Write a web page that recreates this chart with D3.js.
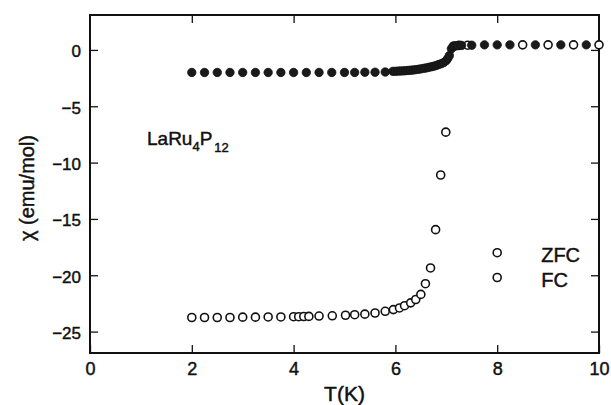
<!DOCTYPE html>
<html>
<head>
<meta charset="utf-8">
<script src="https://cdn.jsdelivr.net/npm/d3@7"></script>
<style>
  body { margin: 0; background: #fff; }
  text { font-family: "Liberation Sans", Arial, sans-serif; fill: #111; stroke: #111; stroke-width: 0.45px; }
</style>
</head>
<body>
<svg id="chart" width="611" height="405"></svg>
<script>
// ZFC (open circles)
var zfcT = [2, 2.25, 2.5, 2.75, 3, 3.25, 3.5, 3.75, 4, 4.1, 4.2, 4.3, 4.5, 4.76,
  5.02, 5.2, 5.4, 5.6, 5.8, 5.96, 6.08, 6.18, 6.3, 6.4, 6.5, 6.59, 6.69, 6.79,
  6.89, 6.99, 7.15, 7.25, 7.42, 8.5, 9, 9.5, 10];
var zfcChi = [-23.75, -23.75, -23.75, -23.75, -23.72, -23.72, -23.7, -23.7,
  -23.68, -23.68, -23.66, -23.65, -23.62, -23.6, -23.55, -23.5, -23.45, -23.35,
  -23.2, -23.05, -22.9, -22.7, -22.45, -22.15, -21.7, -20.75, -19.35, -15.95,
  -11.1, -7.3, 0.35, 0.4, 0.42, 0.45, 0.45, 0.45, 0.45];

// FC (filled circles)
var fcT = [2, 2.25, 2.5, 2.75, 3, 3.25, 3.5, 3.75, 4, 4.25, 4.5, 4.75, 5, 5.2,
  5.4, 5.6, 5.8, 5.95, 6, 6.05, 6.1, 6.15, 6.2, 6.25, 6.3, 6.35, 6.4, 6.45, 6.5,
  6.55, 6.6, 6.65, 6.7, 6.75, 6.8, 6.85, 6.9, 6.95, 7, 7.03, 7.06, 7.1, 7.13,
  7.17, 7.22, 7.3, 7.5, 7.75, 8, 8.25, 8.75, 9.25, 9.75];
var fcChi = [-2, -2, -2, -2, -2, -2, -2, -2, -2, -2, -2, -2, -2, -2, -1.98,
  -1.98, -1.96, -1.9, -1.9, -1.88, -1.87, -1.86, -1.84, -1.82, -1.8, -1.78,
  -1.75, -1.72, -1.68, -1.64, -1.6, -1.55, -1.5, -1.45, -1.38, -1.3, -1.22,
  -1.12, -0.95, -0.75, -0.5, 0.1, 0.3, 0.35, 0.38, 0.4, 0.42, 0.45, 0.45, 0.45,
  0.45, 0.45, 0.45];

var xTicks = [0, 2, 4, 6, 8, 10];
var yTicks = [0, -5, -10, -15, -20, -25];
var legendItems = ["ZFC", "FC"];
var legendT = 8;
var legendChi = [-18.0, -20.2];

var svg = d3.select("#chart"),
  margin = { top: 15, right: 12, bottom: 52, left: 90 },
  width = +svg.attr("width") - margin.left - margin.right,
  height = +svg.attr("height") - margin.top - margin.bottom;

var x = d3.scaleLinear().domain([0, 10]).range([0, width]);
var y = d3.scaleLinear().domain([-26.9, 3.1]).range([height, 0]);

var g = svg
  .append("g")
  .attr("transform", "translate(" + margin.left + "," + margin.top + ")");

// inward ticks on all four sides
g.append("g")
  .attr("class", "x axis")
  .attr("transform", "translate(0," + height + ")")
  .call(d3.axisBottom(x).tickValues(xTicks).tickSizeInner(-8).tickSizeOuter(0).tickPadding(9));

g.append("g")
  .attr("class", "x axis top")
  .call(d3.axisTop(x).tickValues(xTicks.slice(1, -1)).tickSizeInner(-8).tickSizeOuter(0).tickFormat(""));

g.append("g")
  .attr("class", "y axis")
  .call(d3.axisLeft(y).tickValues(yTicks).tickSizeInner(-8).tickSizeOuter(0).tickPadding(9));

g.append("g")
  .attr("class", "y axis right")
  .attr("transform", "translate(" + width + ",0)")
  .call(d3.axisRight(y).tickValues(yTicks).tickSizeInner(-8).tickSizeOuter(0).tickFormat(""));

g.selectAll(".axis .domain").remove();
g.selectAll(".axis line").attr("stroke", "#111").attr("stroke-width", 1.3);
g.selectAll(".x.axis text").style("font-size", "18px").attr("fill", "#111");
g.selectAll(".y.axis text").style("font-size", "17px").attr("fill", "#111").attr("dy", "0.4em");

g.append("rect")
  .attr("width", width)
  .attr("height", height)
  .attr("fill", "none")
  .attr("stroke", "#111")
  .attr("stroke-width", 2);

var fc = fcT.map(function(t, i) { return { t: t, chi: fcChi[i] }; });
var zfc = zfcT.map(function(t, i) { return { t: t, chi: zfcChi[i] }; });

g.selectAll(".zfc")
  .data(zfc)
  .enter()
  .append("circle")
  .attr("class", "zfc")
  .attr("cx", function(d) { return x(d.t); })
  .attr("cy", function(d) { return y(d.chi); })
  .attr("r", 4)
  .attr("fill", "#fff")
  .attr("stroke", "#111")
  .attr("stroke-width", 1.6);

g.selectAll(".fc")
  .data(fc)
  .enter()
  .append("circle")
  .attr("class", "fc")
  .attr("cx", function(d) { return x(d.t); })
  .attr("cy", function(d) { return y(d.chi); })
  .attr("r", 4.2)
  .attr("fill", "#1a1a1a")
  .attr("stroke", "#111")
  .attr("stroke-width", 0.8);

// legend
legendItems.forEach(function(name, i) {
  g.append("circle")
    .attr("cx", x(legendT))
    .attr("cy", y(legendChi[i]))
    .attr("r", 4)
    .attr("fill", "#fff")
    .attr("stroke", "#111")
    .attr("stroke-width", 1.6);
  g.append("text")
    .attr("x", x(legendT) + 44)
    .attr("y", y(legendChi[i]) + 9)
    .style("font-size", "20px")
    .text(name);
});

// compound label
var label = g.append("text")
  .attr("x", 57)
  .attr("y", 130)
  .style("font-size", "19px");
label.append("tspan").text("LaRu");
label.append("tspan").attr("dy", 6).style("font-size", "13px").text("4");
label.append("tspan").attr("dy", -6).text("P");
label.append("tspan").attr("dy", 7).attr("dx", 2).style("font-size", "13px").text("12");

// axis titles
svg.append("text")
  .attr("x", margin.left + x(5))
  .attr("y", 401)
  .attr("text-anchor", "middle")
  .style("font-size", "21px")
  .text("T(K)");

svg.append("text")
  .attr("transform", "translate(34," + 188 + ") rotate(-90)")
  .attr("text-anchor", "middle")
  .style("font-size", "20px")
  .text("χ (emu/mol)");
</script>
</body>
</html>
